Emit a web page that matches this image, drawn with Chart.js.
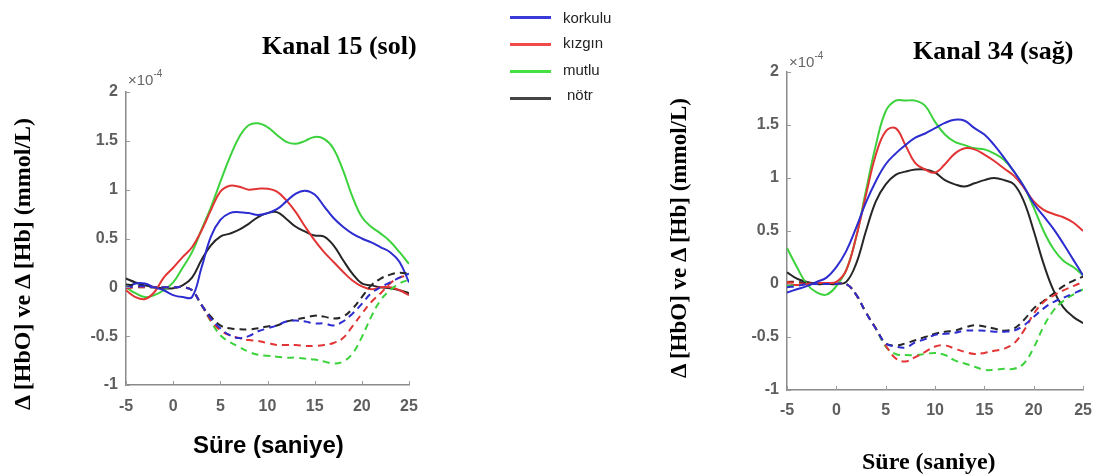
<!DOCTYPE html>
<html>
<head>
<meta charset="utf-8">
<script src="https://cdn.jsdelivr.net/npm/chart.js@4.4.0/dist/chart.umd.min.js"></script>
<style>
    body { margin: 0; background: #fff; width: 1103px; height: 475px; position: relative; overflow: hidden; font-family: 'Liberation Sans', Arial, sans-serif; }
    canvas { position: absolute; top: 0; }
    .txt { position: absolute; white-space: nowrap; line-height: 1; }
    .serif { font-family: 'Liberation Serif', 'Times New Roman', serif; font-weight: bold; color: #000; }
    .ytitle { transform-origin: 0 0; transform: rotate(-90deg); }
    .exp { color: #666; font-size: 15px; }
    .exp sup { font-size: 10px; position: relative; top: -2px; }
    .leg-line { position: absolute; height: 3px; width: 41px; }
    .leg-txt { position: absolute; font-size: 15px; color: #222; line-height: 1; }
</style>
</head>
<body>

<canvas id="leftChart" width="440" height="475" style="left:0"></canvas>
<canvas id="rightChart" width="453" height="475" style="left:650px"></canvas>

<!-- titles -->
<div class="txt serif" style="left:262px; top:33px; font-size:26px;">Kanal 15 (sol)</div>
<div class="txt serif" style="left:913px; top:38px; font-size:26px;">Kanal 34 (sağ)</div>

<!-- y axis titles -->
<div class="txt serif ytitle" style="left:10px; top:410px; font-size:24px;">Δ [HbO] ve Δ [Hb] (mmol/L)</div>
<div class="txt serif ytitle" style="left:667px; top:378px; font-size:23px;">Δ [HbO] ve Δ [Hb] (mmol/L)</div>

<!-- x axis titles -->
<div class="txt" style="left:193px; top:433px; font-size:24px; font-weight:bold; color:#000;">Süre (saniye)</div>
<div class="txt serif" style="left:862px; top:449px; font-size:24px;">Süre (saniye)</div>

<!-- exponent labels -->
<div class="txt exp" style="left:128px; top:71px;">×10<sup>-4</sup></div>
<div class="txt exp" style="left:789px; top:53px;">×10<sup>-4</sup></div>

<!-- legend -->
<div id="legend"></div>

<script>
// time axis (s)
const times = [-5, -4, -3, -2, -1, 0, 1, 2, 3, 4, 5, 6, 7, 8, 9, 10, 11, 12, 13, 14, 15, 16, 17, 18, 19, 20, 21, 22, 23, 24, 25];
const xTicks = [-5, 0, 5, 10, 15, 20, 25];
const yTicks = [-1, -0.5, 0, 0.5, 1, 1.5, 2];
const conditions = ['korkulu', 'kızgın', 'mutlu', 'nötr'];

// Kanal 15 (sol) - HbO (solid), x1e-4 mmol/L
const leftHbO_korkulu = [-0.01, 0.04, 0.04, 0, -0.03, -0.08, -0.1, -0.1, 0.2, 0.52, 0.69, 0.76, 0.77, 0.76, 0.74, 0.76, 0.8, 0.88, 0.96, 0.99, 0.95, 0.83, 0.71, 0.62, 0.55, 0.5, 0.46, 0.41, 0.36, 0.26, 0.05];
const leftHbO_kizgin  = [-0.03, -0.1, -0.12, -0.05, 0.1, 0.2, 0.31, 0.41, 0.58, 0.79, 0.98, 1.04, 1.03, 1.0, 1.01, 1.01, 0.98, 0.89, 0.77, 0.62, 0.48, 0.36, 0.26, 0.16, 0.07, 0.01, -0.02, 0, 0, -0.03, -0.08];
const leftHbO_mutlu   = [0, -0.06, -0.1, -0.08, -0.03, 0.05, 0.2, 0.36, 0.59, 0.82, 1.08, 1.33, 1.54, 1.66, 1.68, 1.64, 1.56, 1.49, 1.47, 1.5, 1.54, 1.52, 1.42, 1.2, 0.93, 0.72, 0.62, 0.55, 0.47, 0.36, 0.24];
const leftHbO_notr    = [0.09, 0.05, 0.02, 0, -0.01, -0.01, 0.02, 0.1, 0.28, 0.43, 0.52, 0.55, 0.59, 0.65, 0.72, 0.76, 0.77, 0.7, 0.62, 0.57, 0.53, 0.52, 0.43, 0.28, 0.14, 0.04, 0.02, 0, -0.01, -0.03, -0.06];

// Kanal 15 (sol) - Hb (dashed)
const leftHb_korkulu = [0, 0.01, 0.01, 0, 0, 0, 0, -0.03, -0.18, -0.32, -0.42, -0.49, -0.52, -0.5, -0.45, -0.42, -0.39, -0.35, -0.34, -0.35, -0.37, -0.37, -0.39, -0.35, -0.27, -0.17, -0.06, 0, 0.05, 0.1, 0.14];
const leftHb_kizgin  = [-0.01, 0, 0, 0, 0, 0, 0, -0.03, -0.18, -0.34, -0.44, -0.49, -0.52, -0.54, -0.55, -0.57, -0.59, -0.59, -0.59, -0.6, -0.6, -0.59, -0.57, -0.52, -0.4, -0.27, -0.15, -0.06, 0.04, 0.1, 0.12];
const leftHb_mutlu   = [0, 0, 0, 0, 0, 0, 0, -0.03, -0.18, -0.35, -0.49, -0.56, -0.61, -0.66, -0.69, -0.7, -0.71, -0.72, -0.72, -0.73, -0.74, -0.76, -0.78, -0.76, -0.68, -0.51, -0.3, -0.13, -0.03, 0.04, 0.08];
const leftHb_notr    = [0.03, 0.02, 0.01, 0, 0, 0, 0, -0.03, -0.18, -0.3, -0.39, -0.42, -0.43, -0.43, -0.42, -0.4, -0.39, -0.35, -0.33, -0.31, -0.29, -0.3, -0.32, -0.3, -0.22, -0.1, 0.02, 0.09, 0.13, 0.15, 0.14];

// Kanal 34 (sag) - HbO (solid)
const rightHbO_korkulu = [-0.08, -0.05, -0.02, 0.02, 0.06, 0.16, 0.31, 0.53, 0.77, 0.97, 1.13, 1.23, 1.31, 1.38, 1.42, 1.47, 1.52, 1.55, 1.54, 1.47, 1.41, 1.31, 1.19, 1.06, 0.92, 0.76, 0.64, 0.52, 0.38, 0.23, 0.08];
const rightHbO_kizgin  = [0, -0.01, 0, 0.01, 0.01, 0.02, 0.13, 0.44, 0.84, 1.22, 1.44, 1.47, 1.31, 1.14, 1.08, 1.05, 1.13, 1.23, 1.28, 1.27, 1.22, 1.16, 1.09, 1.02, 0.91, 0.78, 0.7, 0.66, 0.63, 0.58, 0.5];
const rightHbO_mutlu   = [0.34, 0.16, 0, -0.08, -0.1, -0.02, 0.13, 0.44, 0.88, 1.31, 1.63, 1.73, 1.73, 1.73, 1.68, 1.53, 1.41, 1.34, 1.31, 1.28, 1.27, 1.23, 1.17, 1.06, 0.92, 0.72, 0.5, 0.33, 0.22, 0.16, 0.08];
const rightHbO_notr    = [0.11, 0.05, 0.02, 0, 0, 0, 0.02, 0.19, 0.5, 0.78, 0.94, 1.03, 1.06, 1.08, 1.08, 1.05, 0.98, 0.94, 0.92, 0.95, 0.98, 1.0, 0.98, 0.94, 0.78, 0.5, 0.19, -0.06, -0.22, -0.31, -0.37];

// Kanal 34 (sag) - Hb (dashed)
const rightHb_korkulu = [-0.03, -0.02, 0, 0, 0, 0, 0, -0.1, -0.27, -0.42, -0.56, -0.59, -0.6, -0.55, -0.52, -0.48, -0.47, -0.46, -0.44, -0.44, -0.44, -0.45, -0.45, -0.44, -0.39, -0.31, -0.23, -0.17, -0.13, -0.09, -0.05];
const rightHb_kizgin  = [0.02, 0.01, 0, 0, 0, 0, 0, -0.1, -0.27, -0.42, -0.58, -0.7, -0.73, -0.69, -0.64, -0.59, -0.58, -0.61, -0.64, -0.66, -0.65, -0.63, -0.61, -0.56, -0.44, -0.28, -0.17, -0.11, -0.06, -0.02, 0.02];
const rightHb_mutlu   = [-0.02, -0.01, 0, 0, 0, 0, 0, -0.1, -0.27, -0.42, -0.59, -0.66, -0.67, -0.67, -0.66, -0.65, -0.67, -0.72, -0.75, -0.78, -0.81, -0.81, -0.8, -0.8, -0.75, -0.6, -0.4, -0.25, -0.16, -0.1, -0.05];
const rightHb_notr    = [0.02, 0.02, 0.01, 0, 0, 0, 0, -0.1, -0.27, -0.42, -0.56, -0.58, -0.56, -0.53, -0.5, -0.47, -0.45, -0.44, -0.41, -0.39, -0.4, -0.42, -0.44, -0.42, -0.34, -0.23, -0.16, -0.09, -0.02, 0.03, 0.07];

const lineColors = ['#2c2cd0', '#e23434', '#3cd23c', '#262626'];
const legendColors = ['#3a3ad8', '#f04a4a', '#44e044', '#444444'];

// MATLAB style inward tick marks
const innerTicks = {
    id: 'innerTicks',
    afterDraw(chart) {
        const { ctx, chartArea: a, scales: { x, y } } = chart;
        ctx.save();
        ctx.strokeStyle = '#9a9a9a';
        ctx.lineWidth = 1;
        ctx.beginPath();
        x.ticks.forEach(t => {
            const px = Math.round(x.getPixelForValue(t.value)) + 0.5;
            ctx.moveTo(px, a.bottom);
            ctx.lineTo(px, a.bottom - 4);
        });
        y.ticks.forEach(t => {
            const py = Math.round(y.getPixelForValue(t.value)) + 0.5;
            ctx.moveTo(a.left, py);
            ctx.lineTo(a.left + 4, py);
        });
        ctx.stroke();
        ctx.restore();
    }
};

function toPoints(values) {
    return times.map((t, i) => ({ x: t, y: values[i] }));
}

function buildDatasets(hbo, hb) {
    const sets = [];
    hb.forEach((vals, i) => sets.push({
        label: conditions[i] + ' Hb',
        data: toPoints(vals),
        borderColor: lineColors[i],
        borderWidth: 2,
        borderDash: [7, 5],
        pointRadius: 0,
        tension: 0.4,
        fill: false
    }));
    hbo.forEach((vals, i) => sets.push({
        label: conditions[i] + ' HbO',
        data: toPoints(vals),
        borderColor: lineColors[i],
        borderWidth: 2,
        pointRadius: 0,
        tension: 0.4,
        fill: false
    }));
    return sets;
}

function renderChart(id, datasets, box) {
    const ctx = document.getElementById(id).getContext('2d');
    new Chart(ctx, {
        type: 'line',
        data: { datasets: datasets },
        options: {
            responsive: false,
            animation: false,
            layout: { padding: { top: box.top, right: box.right, bottom: 0, left: 0 } },
            scales: {
                x: {
                    type: 'linear',
                    min: -5,
                    max: 25,
                    afterBuildTicks: s => { s.ticks = xTicks.map(v => ({ value: v })); },
                    afterFit: s => { s.height = box.xHeight; },
                    grid: { display: true, drawOnChartArea: false, drawTicks: false },
                    border: { display: true, color: '#8a8a8a', width: 1.5 },
                    ticks: {
                        padding: box.xPad,
                        color: '#5e5e5e',
                        font: { family: 'Liberation Sans', size: 16, weight: 'bold' },
                        callback: v => String(v)
                    }
                },
                y: {
                    type: 'linear',
                    min: -1,
                    max: 2,
                    afterBuildTicks: s => { s.ticks = yTicks.map(v => ({ value: v })); },
                    afterFit: s => { s.width = box.yWidth; },
                    grid: { display: true, drawOnChartArea: false, drawTicks: false },
                    border: { display: true, color: '#8a8a8a', width: 1.5 },
                    ticks: {
                        padding: 8,
                        color: '#5e5e5e',
                        font: { family: 'Liberation Sans', size: 16, weight: 'bold' },
                        callback: v => String(v)
                    }
                }
            },
            plugins: {
                legend: { display: false },
                title: { display: false },
                tooltip: { enabled: false }
            }
        },
        plugins: [innerTicks]
    });
}

function renderLegend() {
    const el = document.getElementById('legend');
    const lineY = [16, 43, 70, 97];
    const textY = [10, 35, 62, 87];
    const textX = [563, 563, 563, 567];
    conditions.forEach((name, i) => {
        const line = document.createElement('div');
        line.className = 'leg-line';
        line.style.left = '510px';
        line.style.top = lineY[i] + 'px';
        line.style.background = legendColors[i];
        el.appendChild(line);
        const label = document.createElement('div');
        label.className = 'leg-txt';
        label.style.left = textX[i] + 'px';
        label.style.top = textY[i] + 'px';
        label.textContent = name;
        el.appendChild(label);
    });
}

renderChart('leftChart',
    buildDatasets([leftHbO_korkulu, leftHbO_kizgin, leftHbO_mutlu, leftHbO_notr],
                  [leftHb_korkulu, leftHb_kizgin, leftHb_mutlu, leftHb_notr]),
    { top: 92, right: 31, xHeight: 90, yWidth: 126, xPad: 12 });

renderChart('rightChart',
    buildDatasets([rightHbO_korkulu, rightHbO_kizgin, rightHbO_mutlu, rightHbO_notr],
                  [rightHb_korkulu, rightHb_kizgin, rightHb_mutlu, rightHb_notr]),
    { top: 72, right: 13, xHeight: 85, yWidth: 137, xPad: 11 });

renderLegend();
</script>
</body>
</html>
